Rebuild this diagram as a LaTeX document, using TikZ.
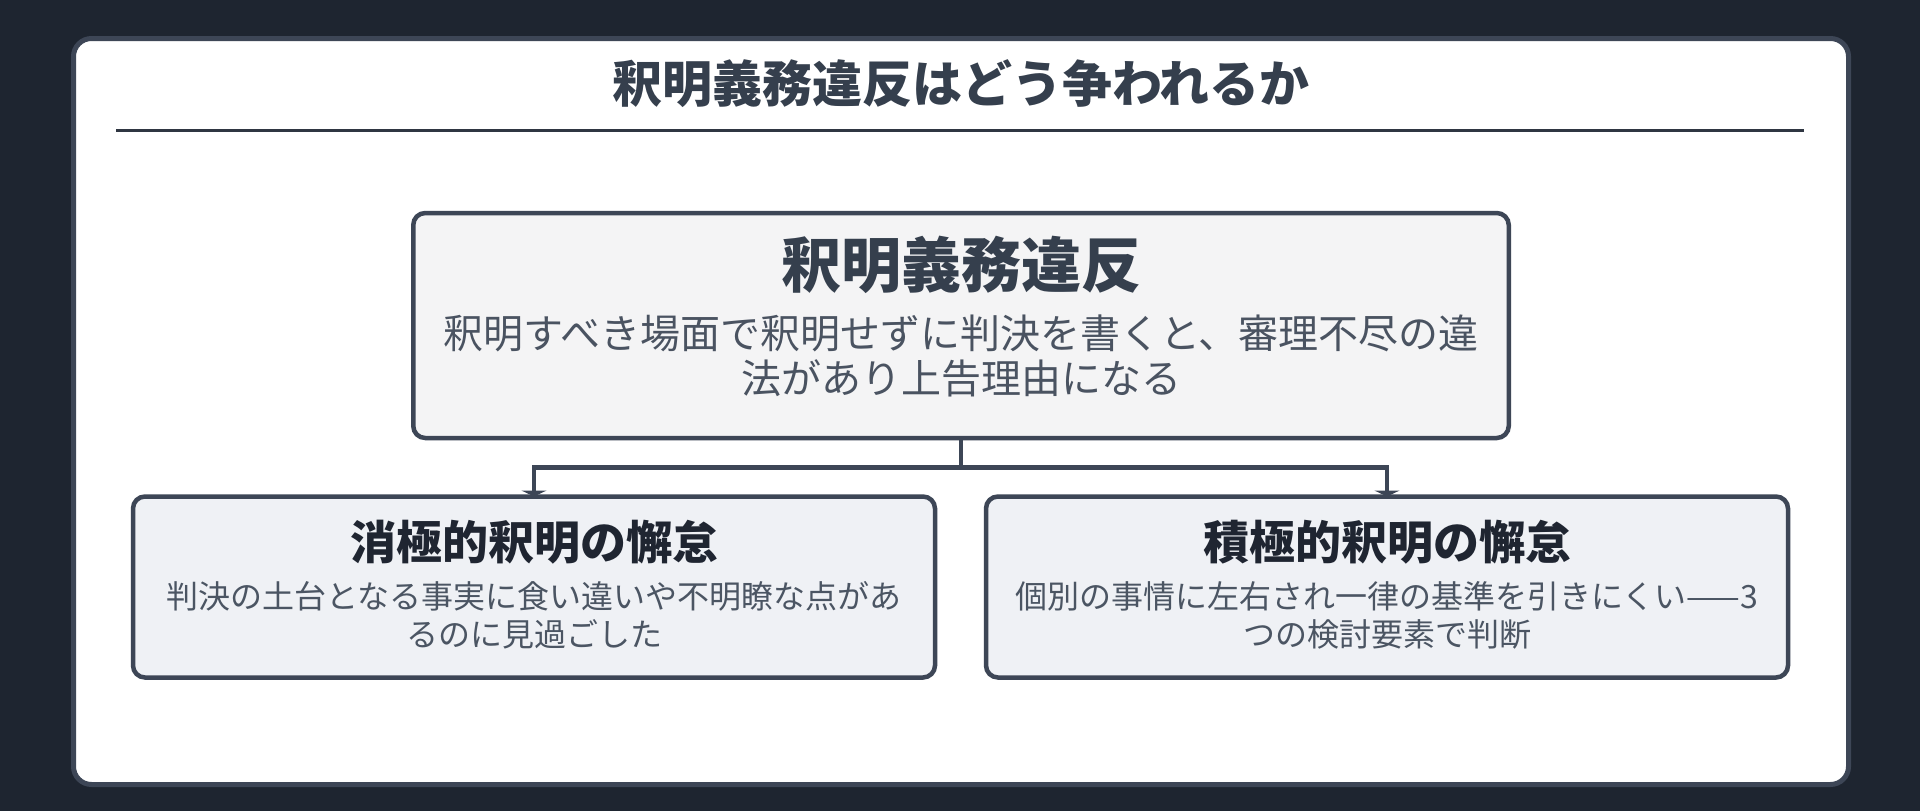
\documentclass[tikz,border=0pt]{standalone}
\usepackage{fontspec}
\setmainfont{Noto Sans CJK JP}
\usetikzlibrary{arrows.meta}
\definecolor{bgdark}{HTML}{1E2530}
\definecolor{edgec}{HTML}{3D4656}
\definecolor{rulec}{HTML}{2F3642}
\definecolor{titlec}{HTML}{353F4D}
\definecolor{subc}{HTML}{4A5361}
\definecolor{subc2}{HTML}{4B5563}
\definecolor{topfill}{HTML}{F4F4F5}
\definecolor{boxfill}{HTML}{EFF1F5}
\definecolor{darkt}{HTML}{1F2531}
\pgfdeclarelayer{bg}
\pgfdeclarelayer{back}
\pgfsetlayers{bg,back,main}
\begin{document}
\begin{tikzpicture}[x=1pt,y=-1pt,
  panel/.style={draw=edgec, fill=white, line width=5pt, rounded corners=18pt, inner sep=0, outer sep=0},
  card/.style={draw=edgec, line width=4.5pt, rounded corners=12pt, inner sep=0, outer sep=0},
  txt/.style={inner sep=0, outer sep=0, align=center},
  conn/.style={draw=edgec, line width=4.5pt},
  tip/.style={-{Triangle[width=25pt,length=6pt]}}
]
\useasboundingbox (0,0) rectangle (1920,811);
\begin{pgfonlayer}{bg}
\fill[bgdark] (0,0) rectangle (1920,811);
\node[panel, minimum width=1775pt, minimum height=746pt] (panel) at (961,411.5) {};
\end{pgfonlayer}
\node[txt, text=titlec, font=\fontsize{50}{60}\selectfont\bfseries] (title) at (961,84) {釈明義務違反はどう争われるか};
\coordinate (rl) at (116,130.5);
\coordinate (rr) at (1804,130.5);
\draw[rulec, line width=3pt] (rl) -- (rr);

\node[card, fill=topfill, minimum width=1095.5pt, minimum height=225pt] (top) at (961,325.5) {};
\node[txt, text=titlec, font=\fontsize{60}{70}\selectfont\bfseries] (toptitle) at (961,265) {釈明義務違反};
\node[txt, text=subc, font=\fontsize{40}{45}\selectfont] (topsub) at (961,356) {釈明すべき場面で釈明せずに判決を書くと、審理不尽の違\\法があり上告理由になる};

\node[card, fill=boxfill, minimum width=802pt, minimum height=181pt] (left) at (534,587) {};
\node[txt, text=darkt, font=\fontsize{46}{54}\selectfont\bfseries] (lefttitle) at (534,542) {消極的釈明の懈怠};
\node[txt, text=subc2, font=\fontsize{32}{38}\selectfont] (leftsub) at (534,615.5) {判決の土台となる事実に食い違いや不明瞭な点があ\\るのに見過ごした};

\node[card, fill=boxfill, minimum width=802pt, minimum height=181pt] (right) at (1387,587) {};
\node[txt, text=darkt, font=\fontsize{46}{54}\selectfont\bfseries] (righttitle) at (1387,542) {積極的釈明の懈怠};
\node[txt, text=subc2, font=\fontsize{32}{38}\selectfont] (rightsub) at (1387,615.5) {個別の事情に左右され一律の基準を引きにくい——3\\つの検討要素で判断};

\coordinate (j) at (961,467.5);
\begin{pgfonlayer}{back}
\draw[conn] (top.south) -- (j);
\draw[conn, tip] (j) -| (left.north);
\draw[conn, tip] (j) -| (right.north);
\end{pgfonlayer}
\end{tikzpicture}
\end{document}
